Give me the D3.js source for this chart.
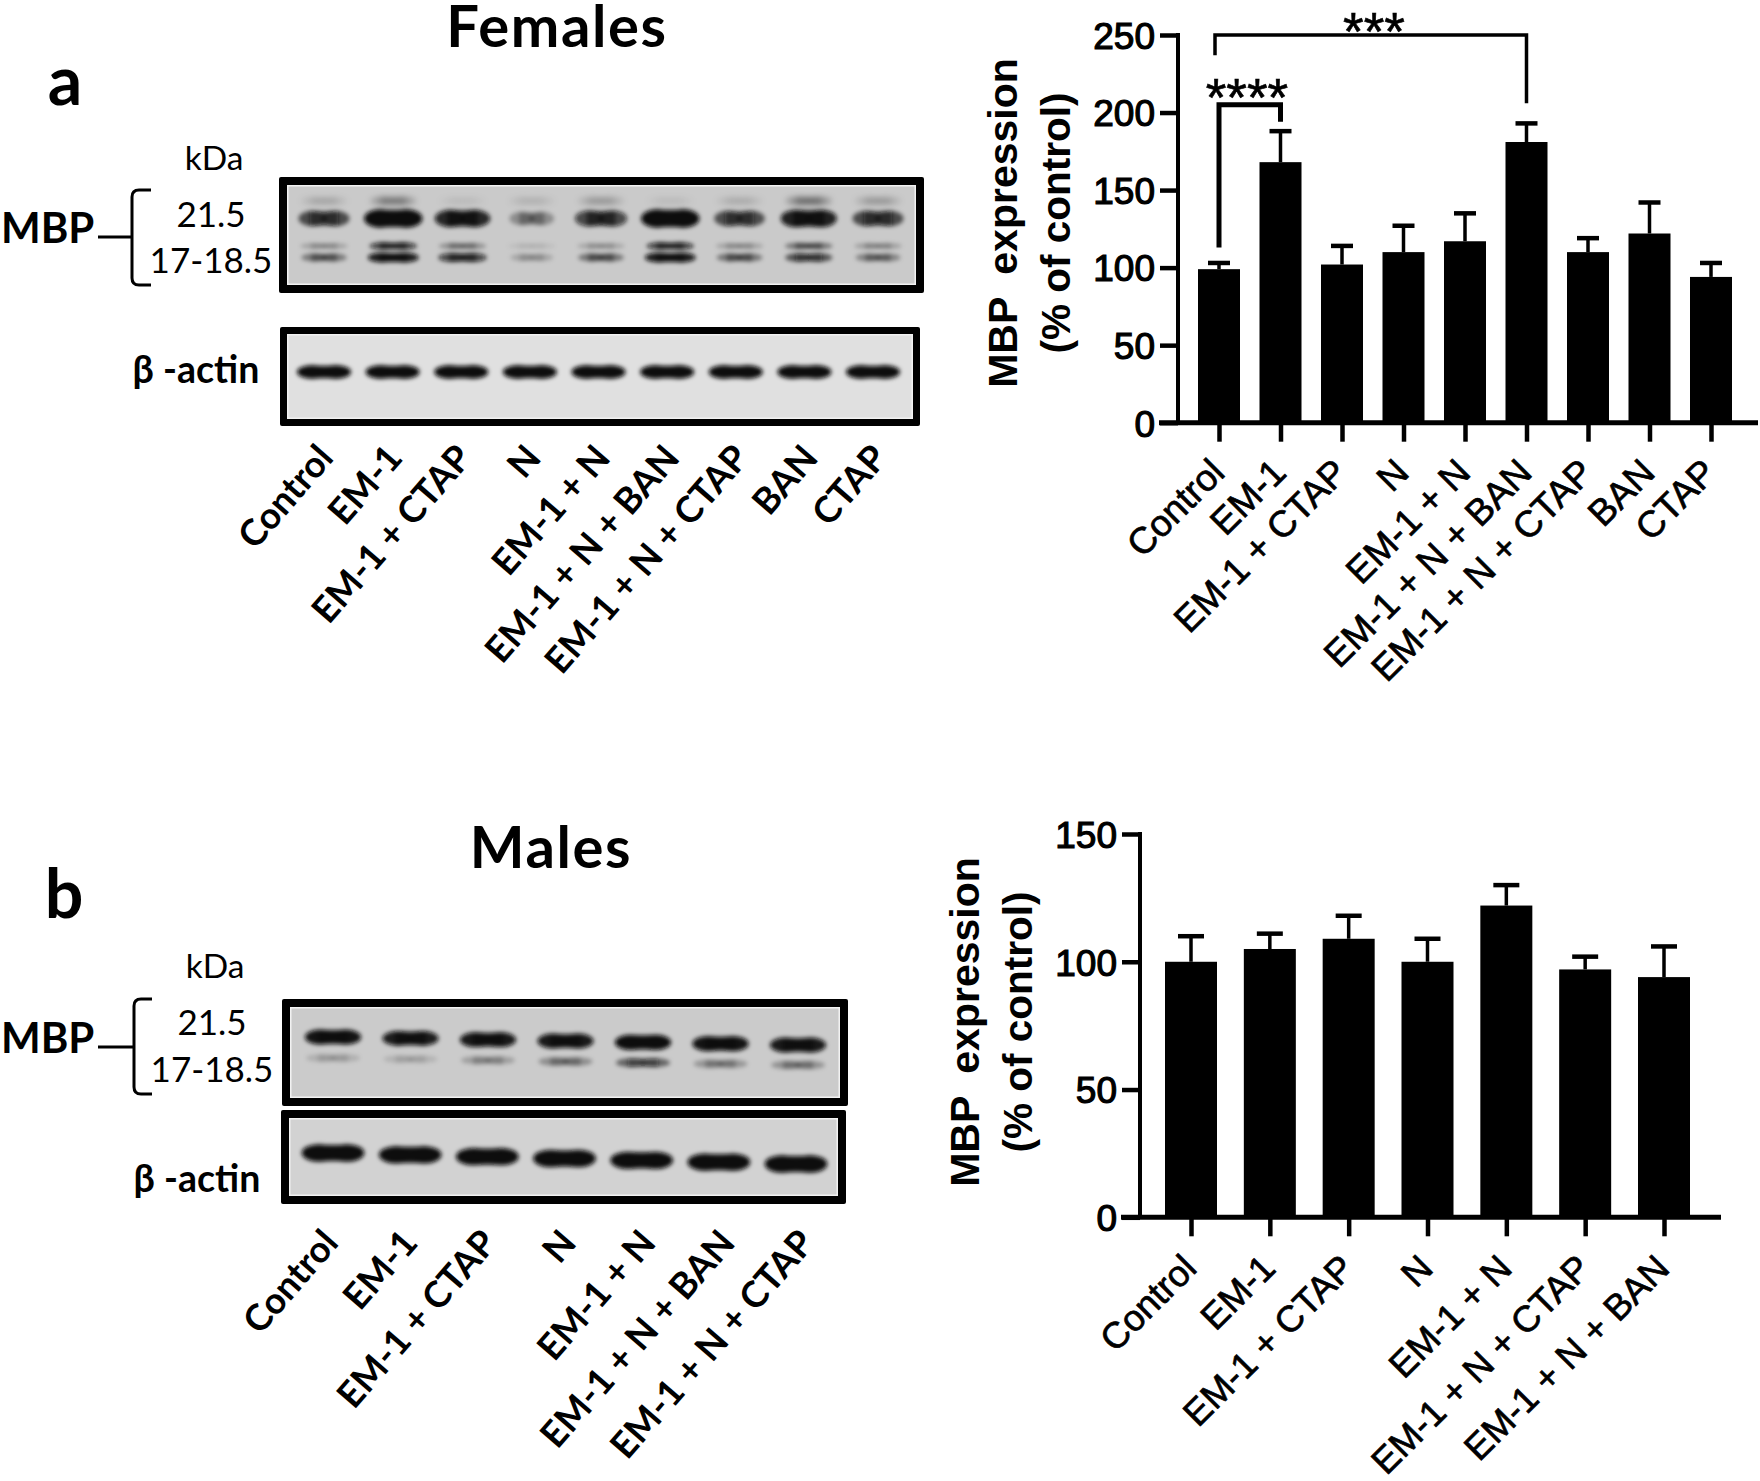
<!DOCTYPE html>
<html><head><meta charset="utf-8">
<style>html,body{margin:0;padding:0;background:#fff}svg{display:block}</style>
<script src="https://cdn.jsdelivr.net/npm/d3@7"></script></head>
<body><div id="chart"></div>
<script>
// ---------- data ----------
const catsA = ["Control","EM-1","EM-1 + CTAP","N","EM-1 + N","EM-1 + N + BAN","EM-1 + N + CTAP","BAN","CTAP"];
const valsA = [99,168,102,110,117,181,110,122,94];
const topsA = [103,188,114,127,135,193,119,142,103];
const catsBBlot = ["Control","EM-1","EM-1 + CTAP","N","EM-1 + N","EM-1 + N + BAN","EM-1 + N + CTAP"];
const catsB = ["Control","EM-1","EM-1 + CTAP","N","EM-1 + N","EM-1 + N + CTAP","EM-1 + N + BAN"];
const valsB = [100,105,109,100,122,97,94];
const topsB = [110,111,118,109,130,102,106];
const ticksA = [0,50,100,150,200,250];
const ticksB = [0,50,100,150];
// band intensities per lane (0-1), read from the blots
const aMain  = [.62,1,.85,.3,.68,1,.6,.88,.62];
const aLow   = [.4,.9,.68,.18,.42,.9,.42,.58,.35];
const aMid   = [.2,.72,.3,.07,.18,.72,.2,.42,.22];
const aFaint = [.12,.28,.05,.08,.16,.05,.1,.32,.16];
const aActin = [1,1,1,1,1,1,1,1,1];
const bMain  = [.95,.9,.92,.92,1,.95,.92];
const bLow   = [.14,.12,.22,.3,.5,.26,.28];
const bActin = [1,1,1,1,1,1,1];

const ARIAL = "'Liberation Sans',Arial,sans-serif", CAL = "Lato,'Open Sans',sans-serif";
const svg = d3.select("#chart").append("svg").attr("width",1760).attr("height",1481);
const defs = svg.append("defs");
[["b2",2.2],["b3",3.2]].forEach(([id,s])=>{
  defs.append("filter").attr("id",id).attr("x","-30%").attr("y","-80%").attr("width","160%").attr("height","260%")
    .append("feGaussianBlur").attr("stdDeviation",s);
});

function text(t,x,y,size,o={}){
  return svg.append("text").text(t).attr("x",x).attr("y",y).attr("font-family",o.font||CAL)
    .attr("font-size",size).attr("font-weight",o.w||400).attr("text-anchor",o.a||"middle").attr("fill","#000")
    .attr("letter-spacing",o.ls||null)
    .attr("stroke",o.sw?"#000":null).attr("stroke-width",o.sw||null)
    .attr("transform",o.rot?`rotate(${o.rot} ${x} ${y})`:null);
}

// ---------- blots ----------
function frame(x0,x1,y0,y1,bw,fill){
  svg.append("rect").attr("x",x0).attr("y",y0).attr("width",x1-x0).attr("height",y1-y0).attr("fill","#000").attr("rx",2);
  svg.append("rect").attr("x",x0+bw).attr("y",y0+bw).attr("width",x1-x0-2*bw).attr("height",y1-y0-2*bw).attr("fill","#f2f2f2");
  svg.append("rect").attr("x",x0+bw+1.5).attr("y",y0+bw+1.5).attr("width",x1-x0-2*bw-3).attr("height",y1-y0-2*bw-3).attr("fill",fill);
}
function bands(cats,x,yFn,vals,wFn,h,filter){
  const g = svg.append("g").attr("filter",`url(#${filter})`);
  cats.forEach((c,i)=>{
    const v=vals[i], w=wFn(v), cx=x(c), cy=yFn(i);
    [-.24,.24].forEach(d=>{
      g.append("ellipse").attr("cx",cx+d*w).attr("cy",cy).attr("rx",w*.3).attr("ry",h*(.62+.4*v)/2)
       .attr("fill","#0a0a0a").attr("opacity",Math.min(1,v*1.02));
    });
    g.append("rect").attr("x",cx-w*.3).attr("width",w*.6).attr("y",cy-h*(.58+.37*v)/2).attr("height",h*(.58+.37*v))
       .attr("fill","#0a0a0a").attr("opacity",v*.95);
  });
}
// panel a, MBP
const laneA = d3.scalePoint().domain(catsA).range([324,878]);
frame(279,924,177,293,8,"#cacaca");
const wA = d3.scaleLinear().domain([0,1]).range([36,54]);
bands(catsA,laneA,()=>201,aFaint,()=>42,10,"b3");
bands(catsA,laneA,()=>218.5,aMain,wA,18,"b2");
bands(catsA,laneA,()=>246,aMid,()=>44,8,"b2");
bands(catsA,laneA,()=>257.5,aLow,d3.scaleLinear().domain([0,1]).range([38,48]),10,"b2");
// panel a, actin
const laneA2 = d3.scalePoint().domain(catsA).range([324,873]);
frame(280,920,327,426,7,"#e0e0e0");
bands(catsA,laneA2,()=>372,aActin,()=>50,13,"b2");
// panel b, MBP
const laneB = d3.scalePoint().domain(catsBBlot).range([333,798]);
frame(282,848,999,1106,8,"#cbcbcb");
bands(catsBBlot,laneB,d3.scaleLinear().domain([0,6]).range([1037,1045]),bMain,()=>52,15,"b2");
bands(catsBBlot,laneB,d3.scaleLinear().domain([0,6]).range([1058,1065]),bLow,()=>50,11,"b2");
// panel b, actin
const laneB2 = d3.scalePoint().domain(catsBBlot).range([333,796]);
frame(281,846,1110,1204,8,"#d2d2d2");
bands(catsBBlot,laneB2,d3.scaleLinear().domain([0,6]).range([1153,1164]),bActin,()=>58,17,"b2");

// brace + labels
function brace(x,tipX,top,mid,bot,endX){
  const r=7;
  svg.append("path").attr("fill","none").attr("stroke","#000").attr("stroke-width",3)
   .attr("d",`M${endX},${top}H${x+r}Q${x},${top} ${x},${top+r}V${bot-r}Q${x},${bot} ${x+r},${bot}H${endX}M${tipX},${mid}H${x}`);
}
brace(132,98,190,237,285,151);
brace(134,98,999,1047,1094,152);
text("Females",557,47,58,{w:700,ls:1.6});
text("a",65,105,68,{w:700});
text("kDa",214,170,33.5);
text("21.5",211,227,35);
text("17-18.5",211,273,35);
text("MBP",1,243,42,{w:700,a:"start"});
text("β -actin",196,383,37.5,{w:700});
text("Males",551,868,58,{w:700,ls:1.6});
text("b",64,918,68,{w:700});
text("kDa",215,978,33.5);
text("21.5",212,1035,35);
text("17-18.5",212,1082,35);
text("MBP",1,1053,42,{w:700,a:"start"});
text("β -actin",197,1192,37.5,{w:700});

// rotated labels under blots
function blotLabels(cats,x,tipY,size){
  const g = svg.append("g");
  g.selectAll("text").data(cats).join("text").text(d=>d)
   .attr("text-anchor","end").attr("font-family",CAL).attr("font-size",size).attr("font-weight",700)
   .attr("transform",d=>`translate(${x(d)},${tipY}) rotate(-49)`);
}
blotLabels(catsA,d3.scalePoint().domain(catsA).range([335,889]),459,36.5);
blotLabels(catsBBlot,d3.scalePoint().domain(catsBBlot).range([340,816]),1244,36.5);

// ---------- bar charts ----------
function barChart(o){
  const x = d3.scalePoint().domain(o.cats).range(o.xr);
  const y = d3.scaleLinear().domain([0,o.max]).range(o.yr);
  const g = svg.append("g");
  g.selectAll("rect.bar").data(o.cats).join("rect").attr("class","bar")
    .attr("x",d=>x(d)-o.bw/2).attr("width",o.bw)
    .attr("y",(d,i)=>y(o.vals[i])).attr("height",(d,i)=>y(0)-y(o.vals[i])).attr("fill","#000");
  g.selectAll("line.err").data(o.cats).join("line").attr("class","err")
    .attr("x1",d=>x(d)).attr("x2",d=>x(d)).attr("y1",(d,i)=>y(o.vals[i])).attr("y2",(d,i)=>y(o.tops[i]))
    .attr("stroke","#000").attr("stroke-width",3.5);
  g.selectAll("line.cap").data(o.cats).join("line").attr("class","cap")
    .attr("x1",d=>x(d)-o.cap).attr("x2",d=>x(d)+o.cap).attr("y1",(d,i)=>y(o.tops[i])).attr("y2",(d,i)=>y(o.tops[i]))
    .attr("stroke","#000").attr("stroke-width",4.5);
  // axes
  const ya = g.append("g").attr("transform",`translate(${o.ax},0)`)
    .call(d3.axisLeft(y).tickValues(o.ticks).tickSize(18).tickPadding(5).tickFormat(d3.format("d")));
  ya.select(".domain").attr("d",`M0,${o.yr[1]-2}V${o.yr[0]}`).attr("stroke","#000").attr("stroke-width",4);
  ya.selectAll(".tick line").attr("stroke","#000").attr("stroke-width",4.5);
  ya.selectAll(".tick text").attr("font-family",ARIAL).attr("font-size",o.tickFont).attr("font-weight",400)
    .attr("stroke","#000").attr("stroke-width",1.2).attr("fill","#000").attr("dy","0.36em");
  const xa = g.append("g").attr("transform",`translate(0,${o.yr[0]})`)
    .call(d3.axisBottom(x).tickSize(o.tl));
  xa.select(".domain").attr("d",`M${o.ax-19},0H${o.xEnd}`).attr("stroke","#000").attr("stroke-width",5);
  xa.selectAll(".tick line").attr("stroke","#000").attr("stroke-width",4.5);
  xa.selectAll(".tick text").attr("y",null).attr("dy",null).attr("font-family",ARIAL).attr("font-size",o.labFont)
    .attr("text-anchor","end").attr("fill","#000").attr("stroke","#000").attr("stroke-width",.7)
    .attr("transform",`translate(${o.tipDx},${o.tipDy}) rotate(-45)`);
  // titles
  text("MBP  expression",o.tx1,o.tyc,41,{font:ARIAL,w:700,rot:-90}).style("white-space","pre");
  text("(% of control)",o.tx2,o.tyc,40.5,{font:ARIAL,w:700,rot:-90});
  return {x,y};
}
const A = barChart({cats:catsA,vals:valsA,tops:topsA,ticks:ticksA,max:250,xr:[1219,1711],yr:[422.7,35],bw:42,cap:11,
  ax:1178,xEnd:1758,tl:19,tickFont:37,labFont:37,tipDx:7,tipDy:52,tx1:1017,tx2:1070,tyc:223});
barChart({cats:catsB,vals:valsB,tops:topsB,ticks:ticksB,max:150,xr:[1191,1664],yr:[1217.3,834],bw:52,cap:13,
  ax:1140,xEnd:1721,tl:19,tickFont:37,labFont:36.5,tipDx:7,tipDy:53,tx1:979,tx2:1032,tyc:1022});

// significance brackets, anchored to the categories
function bracket(c1,c2,topVal,leftVal,rightVal,sw,dx1){
  const x1=A.x(c1)+dx1,x2=A.x(c2);
  svg.append("path").attr("fill","none").attr("stroke","#000").attr("stroke-width",sw)
   .attr("d",`M${x1},${A.y(leftVal)}V${A.y(topVal)}H${x2}V${A.y(rightVal)}`);
}
bracket("Control","EM-1 + N + BAN",250,237,206,3.5,-4);
bracket("Control","EM-1",205,113,194,5,0);
text("***",1374,50,53,{font:ARIAL,sw:.6});
text("****",1247,116,53,{font:ARIAL,sw:.6});
</script></body></html>
